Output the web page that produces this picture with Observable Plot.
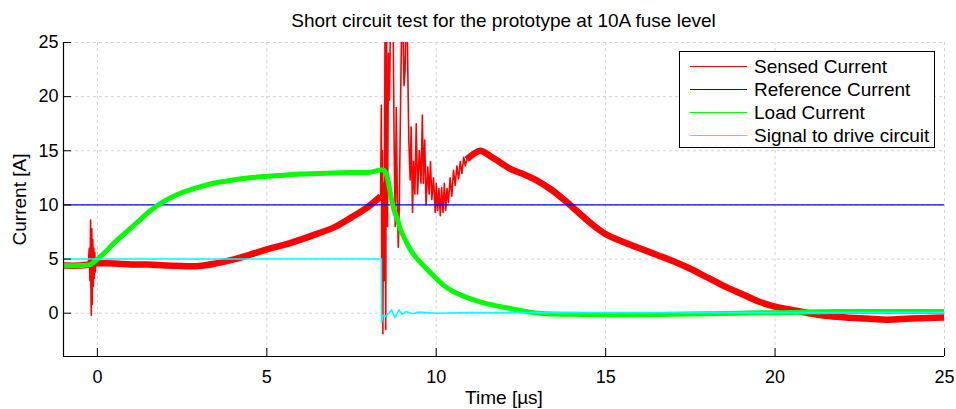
<!DOCTYPE html>
<html><head><meta charset="utf-8">
<script src="https://cdn.jsdelivr.net/npm/d3@7"></script>
<script src="https://cdn.jsdelivr.net/npm/@observablehq/plot@0.6"></script>
<style>
body{margin:0;background:#fff;}
#wrap{position:relative;width:956px;height:409px;font-family:"Liberation Sans",Arial,sans-serif;color:#000;}
#title{position:absolute;left:63px;width:881px;top:11px;text-align:center;font-size:19px;line-height:19px;white-space:nowrap;}
#legend{position:absolute;left:679px;top:51px;width:256px;height:97px;box-sizing:border-box;border:1px solid #000;background:#fff;padding-top:3px;}
.row{display:flex;align-items:center;height:23px;font-size:19px;white-space:nowrap;}
.sw{margin-left:10px;width:57px;height:1px;margin-right:7px;}
svg [aria-label="x-axis label"] text, svg [aria-label="y-axis label"] text{font-size:19px;}
</style></head>
<body><div id="wrap"><div id="title"></div><div id="legend"></div></div>
<script>
// ---- data (time in µs, current in A) ----
const xDomain = [-1, 25];
const yDomain = [-4, 25];
const xTicks = [0, 5, 10, 15, 20, 25];
const yTicks = [0, 5, 10, 15, 20, 25];

const titleText = "Short circuit test for the prototype at 10A fuse level";
const seriesNames = ["Sensed Current", "Reference Current", "Load Current", "Signal to drive circuit"];
const seriesColors = ["#ff0000", "#0000ff", "#00ff00", "#00ffff"];

// Sensed current: smooth parts (before and after the fault burst)
const sensedPreT = [-1, -0.5, -0.2, 0, 0.5, 1, 1.5, 2, 2.5, 3, 3.5, 4, 4.5, 5, 5.5, 6, 6.5, 7, 7.5, 8, 8.36];
const sensedPreI = [4.4, 4.4, 4.5, 4.6, 4.6, 4.5, 4.5, 4.4, 4.35, 4.35, 4.6, 4.95, 5.4, 5.9, 6.3, 6.8, 7.35, 7.95, 8.85, 9.85, 10.8];
const sensedPostT = [10.9, 11.1, 11.3, 11.6, 11.9, 12.2, 12.6, 13.0, 13.4, 13.8, 14.2, 14.6, 15.0, 15.5, 16.0, 16.5, 17.0, 17.5, 18.0, 18.5, 19.0, 19.5, 20.0, 20.5, 21.0, 21.5, 22.1, 22.7, 23.3, 24.0, 24.5, 25];
const sensedPostI = [14.2, 14.7, 15.0, 14.5, 13.9, 13.3, 12.8, 12.2, 11.4, 10.4, 9.3, 8.2, 7.3, 6.6, 6.0, 5.4, 4.8, 4.1, 3.3, 2.5, 1.8, 1.1, 0.6, 0.3, 0.0, -0.25, -0.4, -0.5, -0.6, -0.5, -0.45, -0.4];
// Sensed current: switching spike near t = 0
const spikeStartT = [-0.27, -0.24, -0.22, -0.2, -0.19, -0.18, -0.165, -0.15, -0.135, -0.12, -0.105, -0.09, -0.075, -0.06, -0.04, -0.02];
const spikeStartI = [4.5, 6.0, 3.0, 8.6, 2.0, -0.2, 7.8, 0.8, 6.8, 2.5, 6.0, 3.2, 5.6, 3.8, 5.0, 4.5];
// Sensed current: fault burst
const burstT = [8.36, 8.38, 8.395, 8.41, 8.425, 8.44, 8.46, 8.49, 8.51, 8.53, 8.56, 8.59, 8.62, 8.65, 8.7, 8.73, 8.76, 8.79, 8.82, 8.85, 8.88, 8.91, 8.95, 8.98, 9.02, 9.05, 9.08, 9.11, 9.15, 9.19, 9.23, 9.26, 9.3, 9.33, 9.37, 9.41, 9.45, 9.5, 9.55, 9.59, 9.62, 9.66, 9.7, 9.75, 9.79, 9.83, 9.87, 9.92, 9.97, 10.0, 10.04, 10.08, 10.12, 10.16, 10.2, 10.24, 10.28, 10.32, 10.36, 10.41, 10.46, 10.51, 10.56, 10.61, 10.66, 10.71, 10.76, 10.81, 10.86, 10.9];
const burstI = [10.8, 19.2, 1.0, 15.0, -1.9, 12, 3, 27, -1.5, 28, 8, 24, 19.7, 27, 28, 26, 15, 8, 19, 11, 6.1, 10, 20, 27, 26, 21, 22.5, 27, 25, 16, 12.3, 17.2, 9.3, 14, 11, 17.5, 11, 15, 12, 18.3, 12, 16, 10, 13.5, 11, 14, 10.5, 12.5, 9.3, 12, 9.5, 11.5, 9.0, 11.6, 9.3, 12, 9.5, 11.5, 10.2, 12.5, 10.8, 13.2, 11.8, 13.6, 12.4, 14.0, 12.9, 14.4, 13.6, 14.2];

// Reference current
const refT = [-1, 25];
const refI = [10, 10];

// Load current
const loadT = [-1, -0.5, -0.2, 0, 0.25, 0.5, 0.75, 1.0, 1.25, 1.5, 1.75, 2.0, 2.25, 2.5, 3.0, 3.5, 4.0, 4.5, 5.0, 5.5, 6.0, 6.5, 7.0, 7.5, 8.0, 8.45, 8.55, 8.65, 8.75, 8.85, 8.95, 9.1, 9.25, 9.5, 9.75, 10.0, 10.25, 10.5, 10.75, 11.0, 11.3, 11.75, 12.25, 12.75, 13.25, 14, 15, 16, 17, 18, 19, 20, 21, 22, 23, 24, 25];
const loadI = [4.4, 4.4, 4.5, 5.0, 5.7, 6.5, 7.2, 7.9, 8.6, 9.3, 9.9, 10.4, 10.8, 11.15, 11.65, 12.05, 12.3, 12.5, 12.65, 12.75, 12.85, 12.9, 12.95, 13.0, 13.0, 13.2, 12.6, 11.0, 9.6, 8.7, 7.7, 6.7, 5.8, 4.8, 4.0, 3.2, 2.5, 2.0, 1.65, 1.35, 1.05, 0.7, 0.4, 0.1, -0.05, -0.1, -0.15, -0.15, -0.1, -0.05, 0, 0.05, 0.1, 0.15, 0.15, 0.15, 0.15];

// Signal to drive circuit
const driveT = [-1, 8.38, 8.39, 8.42, 8.5, 8.6, 8.68, 8.78, 8.9, 9.0, 9.1, 9.3, 9.5, 10, 11, 12, 15, 20, 25];
const driveI = [5.0, 5.0, -0.9, -0.2, -0.3, 0.0, 0.3, -0.4, 0.3, -0.1, 0.15, -0.05, 0.1, 0.0, 0.05, 0.05, 0.05, 0.05, 0.05];

const zip = (ts, vs) => ts.map((t, i) => ({t, v: vs[i]}));

const lineOpts = (color, w, curve = "linear") => ({x: "t", y: "v", stroke: color, strokeWidth: w, clip: true, curve, strokeLinejoin: "round", strokeLinecap: "butt"});

const W = 956, H = 409, ML = 63, MR = 12, MT = 42, MB = 53, TICK = 8;

const plot = Plot.plot({
  width: W, height: H,
  marginLeft: ML, marginRight: MR, marginTop: MT, marginBottom: MB,
  style: {fontFamily: "'Liberation Sans', Arial, sans-serif", fontSize: "18px", background: "transparent", color: "#000"},
  x: {domain: xDomain},
  y: {domain: yDomain},
  marks: [
    Plot.gridX(xTicks, {stroke: "#d4d4d4", strokeOpacity: 1, strokeDasharray: "3,3"}),
    Plot.gridY(yTicks, {stroke: "#d4d4d4", strokeOpacity: 1, strokeDasharray: "3,3"}),
    Plot.line(zip(sensedPreT, sensedPreI), lineOpts(seriesColors[0], 6.5, "catmull-rom")),
    Plot.line(zip(sensedPostT, sensedPostI), lineOpts(seriesColors[0], 6.5, "catmull-rom")),
    Plot.line(zip(spikeStartT, spikeStartI), lineOpts(seriesColors[0], 1.6)),
    Plot.line(zip(burstT, burstI), lineOpts(seriesColors[0], 1.6)),
    Plot.line(zip(refT, refI), lineOpts(seriesColors[1], 1.2)),
    Plot.line(zip(loadT, loadI), lineOpts(seriesColors[2], 5, "catmull-rom")),
    Plot.line(zip(driveT, driveI), lineOpts(seriesColors[3], 1.6)),
    // inward tick marks (MATLAB style)
    Plot.tickX(xTicks, {stroke: "#000", strokeWidth: 1, insetTop: (H - MT - MB) - TICK}),
    Plot.tickY(yTicks, {stroke: "#000", strokeWidth: 1, insetRight: (W - ML - MR) - TICK}),
    Plot.ruleX([xDomain[0]], {stroke: "#000", strokeWidth: 1.2}),
    Plot.ruleY([yDomain[0]], {stroke: "#000", strokeWidth: 1.2}),
    Plot.axisX(xTicks, {tickSize: 0, tickPadding: 14, label: "Time [µs]", labelAnchor: "center", labelOffset: 47, labelArrow: "none"}),
    Plot.axisY(yTicks, {tickSize: 0, tickPadding: 5, label: "Current [A]", labelAnchor: "center", labelOffset: 51, labelArrow: "none"})
  ]
});
const wrap = document.getElementById("wrap");
wrap.insertBefore(plot, wrap.firstChild);
document.getElementById("title").textContent = titleText;
const legend = document.getElementById("legend");
seriesNames.forEach((name, i) => {
  const row = document.createElement("div");
  row.className = "row";
  const sw = document.createElement("div");
  sw.className = "sw";
  sw.style.background = seriesColors[i];
  const tx = document.createElement("span");
  tx.textContent = name;
  row.appendChild(sw); row.appendChild(tx);
  legend.appendChild(row);
});
</script></body></html>
